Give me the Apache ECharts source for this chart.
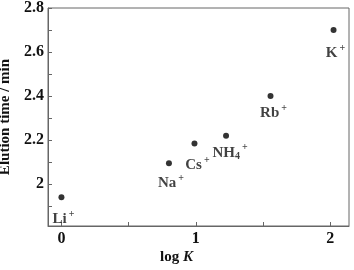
<!DOCTYPE html>
<html>
<head>
<meta charset="utf-8">
<script src="https://cdn.jsdelivr.net/npm/echarts@6/dist/echarts.min.js"></script>
<style>
  html, body { margin: 0; padding: 0; background: #fff; }
  #chart { width: 354px; height: 270px; }
</style>
</head>
<body>
<div id="chart"></div>
<script>
// data
var logK = [0, 0.8, 0.99, 1.225, 1.556, 2.025]
var elutionTime = [1.94, 2.095, 2.185, 2.22, 2.40, 2.70]
var ionLabels = ['Li{sup|+}', 'Na{sup|+}', 'Cs{sup|+}', 'NH{sub|4}{sup|+}', 'Rb{sup|+}', 'K{sup|+}']
var labelOffsets = [[2, 22], [2, 20], [3, 22], [4, 17], [3, 17], [2, 23]]
var xTicks = [0, 0.5, 1, 1.5, 2]
var xTickLabels = [0, 1, 2]
var yTicks = [1.9, 2.0, 2.1, 2.2, 2.3, 2.4, 2.5, 2.6, 2.7, 2.8]
var yTickLabels = [2.0, 2.2, 2.4, 2.6, 2.8]

var font = 'Liberation Serif'
var axisColor = '#666'
var textColor = '#111'

var chart = echarts.init(document.getElementById('chart'))

var points = logK.map(function(x, i) {
  return {
    value: [x, elutionTime[i]],
    label: {
      show: true,
      position: 'inside',
      offset: labelOffsets[i],
      formatter: ionLabels[i]
    }
  }
})

chart.setOption({
  animation: false,
  grid: {
    left: 48,
    right: 5,
    top: 8,
    bottom: 44,
    outerBoundsMode: 'none',
    containLabel: false,
    show: true,
    borderColor: axisColor,
    borderWidth: 1
  },
  xAxis: {
    type: 'value',
    min: -0.1,
    max: 2.14,
    axisLine: { show: true, onZero: false, lineStyle: { color: axisColor } },
    axisTick: { show: true, inside: true, length: 4, customValues: xTicks, lineStyle: { color: axisColor } },
    splitLine: { show: false },
    axisLabel: {
      customValues: xTickLabels,
      color: textColor,
      fontFamily: font,
      fontWeight: 'bold',
      fontSize: 16,
      margin: 5
    }
  },
  yAxis: {
    type: 'value',
    min: 1.81,
    max: 2.8,
    name: 'Elution time / min',
    nameLocation: 'middle',
    nameGap: 32,
    nameTextStyle: { color: textColor, fontFamily: font, fontWeight: 'bold', fontSize: 15 },
    axisLine: { show: true, onZero: false, lineStyle: { color: axisColor } },
    axisTick: { show: true, inside: true, length: 4, customValues: yTicks, lineStyle: { color: axisColor } },
    splitLine: { show: false },
    axisLabel: {
      customValues: yTickLabels,
      color: textColor,
      fontFamily: font,
      fontWeight: 'bold',
      fontSize: 16,
      margin: 4,
      formatter: function(v) {
        return Math.abs(v - 2) < 1e-9 ? '2' : v.toFixed(1)
      }
    }
  },
  graphic: [{
    type: 'text',
    left: 160,
    top: 250,
    style: {
      text: '{n|log }{i|K}',
      rich: {
        n: { fontFamily: font, fontWeight: 'bold', fontSize: 15, fill: textColor },
        i: { fontFamily: font, fontWeight: 'bold', fontStyle: 'italic', fontSize: 15, fill: textColor }
      }
    }
  }],
  series: [{
    type: 'scatter',
    symbol: 'circle',
    symbolSize: 6,
    itemStyle: { color: '#000' },
    label: {
      color: textColor,
      fontFamily: font,
      fontWeight: 'bold',
      fontSize: 15,
      rich: {
        sup: { fontFamily: font, fontWeight: 'bold', fontSize: 10, color: textColor, padding: [0, 0, 10, 2] },
        sub: { fontFamily: font, fontWeight: 'bold', fontSize: 10, color: textColor, padding: [8, 0, 0, 0] }
      }
    },
    data: points
  }]
})
</script>
</body>
</html>
